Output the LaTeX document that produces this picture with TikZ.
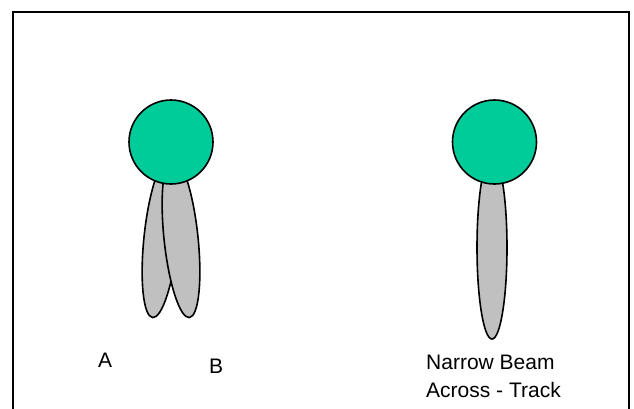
\documentclass[tikz,border=0pt]{standalone}
\usepackage{fontspec}
\setmainfont{Liberation Sans}
\definecolor{sensorgreen}{HTML}{00CC99}
\definecolor{lobegray}{HTML}{C0C0C0}
\begin{document}
\begin{tikzpicture}[x=1pt,y=-1pt,
  outline/.style={draw=black,line width=1.6pt},
  sensor/.style={outline,circle,fill=sensorgreen,minimum size=84pt,inner sep=0pt},
  lobe/.style={outline,fill=lobegray},
  label/.style={anchor=base west,inner sep=0pt,font=\fontsize{21}{28}\selectfont}]
\useasboundingbox (0,0) rectangle (634,408);
\fill[white] (0,0) rectangle (634,408);
% frame (bottom side lies below the picture)
\draw[line width=2pt] (12.5,420) -- (12.5,12) -- (629,12) -- (629,420);
% lobes A and B
\draw[lobe, rotate around={-6:(161,238)}] (161,238) ellipse [x radius=17pt, y radius=80pt];
\draw[lobe, rotate around={6:(181,238)}] (181,238) ellipse [x radius=17pt, y radius=80pt];
\node[sensor] (left) at (171,142) {};
% narrow beam
\draw[lobe] (492,247.5) ellipse [x radius=15pt, y radius=91.5pt];
\node[sensor] (right) at (494.5,142) {};
% labels
\node[label] (labA) at (98,367) {A};
\node[label] (labB) at (209,373) {B};
\node[label] (labN1) at (426,369) {Narrow Beam};
\node[label] (labN2) at (426,397) {Across - Track};
\end{tikzpicture}
\end{document}
